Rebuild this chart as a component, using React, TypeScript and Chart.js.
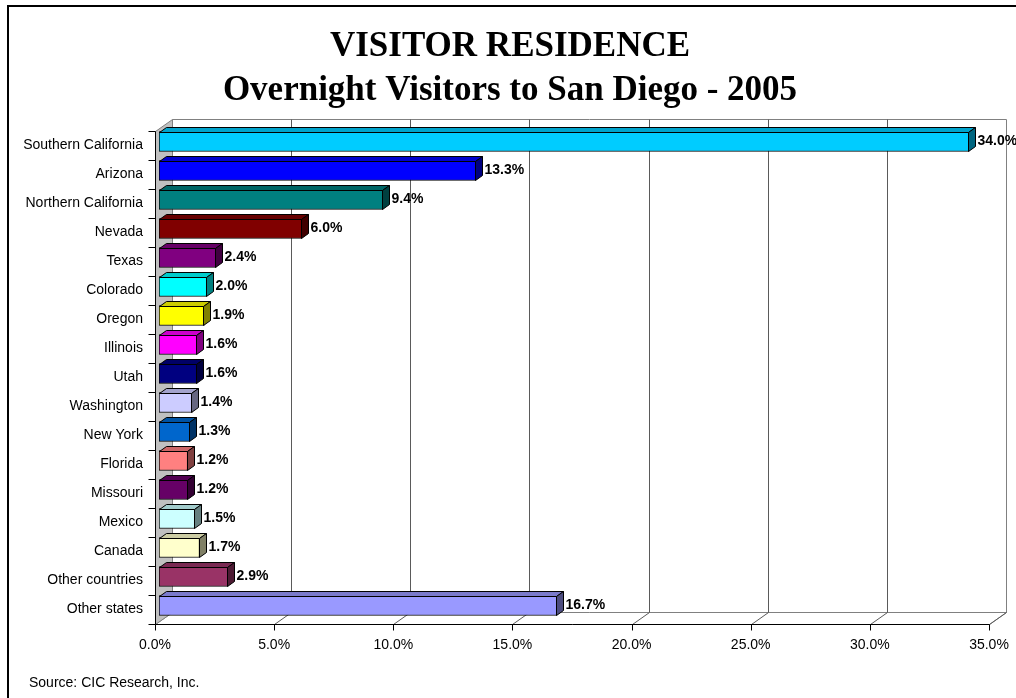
import { useEffect, useRef } from 'react';
import { Chart, registerables } from 'chart.js';

Chart.register(...registerables);

// Visitor origin categories, top to bottom
const regions = [
  'Southern California',
  'Arizona',
  'Northern California',
  'Nevada',
  'Texas',
  'Colorado',
  'Oregon',
  'Illinois',
  'Utah',
  'Washington',
  'New York',
  'Florida',
  'Missouri',
  'Mexico',
  'Canada',
  'Other countries',
  'Other states',
];

// Share of overnight visitors (%)
const shares = [34.0, 13.3, 9.4, 6.0, 2.4, 2.0, 1.9, 1.6, 1.6, 1.4, 1.3, 1.2, 1.2, 1.5, 1.7, 2.9, 16.7];

const barColors = [
  '#00CCFF', '#0000FF', '#008080', '#800000', '#800080', '#00FFFF', '#FFFF00', '#FF00FF',
  '#000080', '#CCCCFF', '#0066CC', '#FF8080', '#660066', '#CCFFFF', '#FFFFCC', '#993366', '#9999FF',
];

const axisMax = 35;
const axisStep = 5;
const titleLines = ['VISITOR RESIDENCE', 'Overnight Visitors to San Diego - 2005'];
const sourceNote = 'Source: CIC Research, Inc.';

// 3D geometry (pixels)
const FRONT_DX = -4;
const FRONT_DY = 4;
const WALL_DX = 17;
const WALL_DY = -12;
const BAR_DX = 7;
const BAR_DY = -5;

const SANS = '"Liberation Sans", Arial, sans-serif';

function shade(hex: string, f: number): string {
  const n = parseInt(hex.slice(1), 16);
  const r = Math.round(((n >> 16) & 255) * f);
  const g = Math.round(((n >> 8) & 255) * f);
  const b = Math.round((n & 255) * f);
  return `rgb(${r},${g},${b})`;
}

const px = (v: number) => Math.round(v) + 0.5;

function line(ctx: CanvasRenderingContext2D, x0: number, y0: number, x1: number, y1: number, color: string) {
  ctx.strokeStyle = color;
  ctx.beginPath();
  ctx.moveTo(x0, y0);
  ctx.lineTo(x1, y1);
  ctx.stroke();
}

function poly(ctx: CanvasRenderingContext2D, pts: number[][], fill: string | null, stroke: string | null) {
  ctx.beginPath();
  pts.forEach(([x, y], i) => (i ? ctx.lineTo(x, y) : ctx.moveTo(x, y)));
  ctx.closePath();
  if (fill) {
    ctx.fillStyle = fill;
    ctx.fill();
  }
  if (stroke) {
    ctx.strokeStyle = stroke;
    ctx.stroke();
  }
}

const room3d = {
  id: 'room3d',
  beforeDraw(chart: any) {
    const { ctx } = chart;
    ctx.save();
    ctx.fillStyle = '#000';
    ctx.fillRect(7, 5, chart.width - 7, 2);
    ctx.fillRect(7, 5, 2, chart.height - 5);
    ctx.restore();
  },
  beforeDatasetsDraw(chart: any) {
    const { ctx, chartArea: a, scales } = chart;
    const xs = scales.x;
    const fx0 = px(a.left + FRONT_DX);
    const fx1 = px(xs.getPixelForValue(axisMax) + FRONT_DX);
    const fy0 = px(a.top + FRONT_DY);
    const fy1 = px(a.bottom + FRONT_DY);
    const bx0 = fx0 + WALL_DX;
    const bx1 = fx1 + WALL_DX;
    const by0 = fy0 + WALL_DY;
    const by1 = fy1 + WALL_DY;

    ctx.save();
    ctx.lineWidth = 1;

    // back wall
    poly(ctx, [[bx0, by0], [bx1, by0], [bx1, by1], [bx0, by1]], '#fff', '#808080');
    // floor
    poly(ctx, [[fx0, fy1], [fx1, fy1], [bx1, by1], [bx0, by1]], '#fff', '#808080');

    // gridlines on back wall and their floor diagonals
    for (let v = axisStep; v <= axisMax; v += axisStep) {
      const xf = px(xs.getPixelForValue(v) + FRONT_DX);
      const xb = xf + WALL_DX;
      if (v < axisMax) line(ctx, xb, by0, xb, by1, '#5a5a5a');
      line(ctx, xf, fy1, xb, by1, '#5a5a5a');
    }

    // left side wall
    poly(ctx, [[fx0, fy0], [bx0, by0], [bx0, by1], [fx0, fy1]], '#C0C0C0', '#808080');

    // front axes
    line(ctx, fx0, fy0, fx0, fy1, '#000');
    line(ctx, fx0, fy1, fx1, fy1, '#000');
    for (let v = 0; v <= axisMax; v += axisStep) {
      const xf = px(xs.getPixelForValue(v) + FRONT_DX);
      line(ctx, xf, fy1, xf, fy1 + 6, '#000');
    }
    const band = (a.bottom - a.top) / regions.length;
    for (let k = 0; k <= regions.length; k++) {
      const y = px(a.top + k * band + FRONT_DY);
      line(ctx, fx0 - 7, y, fx0, y, '#000');
    }
    ctx.restore();
  },
  afterDatasetsDraw(chart: any) {
    const { ctx } = chart;
    const meta = chart.getDatasetMeta(0);
    ctx.save();
    ctx.lineWidth = 1;
    meta.data.forEach((el: any, i: number) => {
      const { x, y, base, height } = el.getProps(['x', 'y', 'base', 'height'], true);
      const left = Math.round(Math.min(x, base));
      const right = Math.round(Math.max(x, base)) - 0.5;
      const top = Math.round(y - height / 2) + 0.5;
      const bottom = Math.round(y + height / 2) - 0.5;
      const c = barColors[i];
      poly(ctx, [[left + 0.5, top], [left + 0.5 + BAR_DX, top + BAR_DY], [right + BAR_DX, top + BAR_DY], [right, top]], shade(c, 0.8), '#000');
      poly(ctx, [[right, top], [right + BAR_DX, top + BAR_DY], [right + BAR_DX, bottom + BAR_DY], [right, bottom]], shade(c, 0.5), '#000');

      ctx.fillStyle = '#000';
      ctx.font = `bold 14px ${SANS}`;
      ctx.textAlign = 'left';
      ctx.textBaseline = 'middle';
      ctx.fillText(shares[i].toFixed(1) + '%', right + 9, y);
    });

    ctx.font = `14px ${SANS}`;
    ctx.fillStyle = '#000';
    ctx.textAlign = 'left';
    ctx.textBaseline = 'middle';
    ctx.fillText(sourceNote, 29, 683);
    ctx.restore();
  },
};

export default function App() {
  const canvasRef = useRef<HTMLCanvasElement>(null);

  useEffect(() => {
    if (!canvasRef.current) return;
    const chart = new Chart(canvasRef.current, {
      type: 'bar',
      data: {
        labels: regions,
        datasets: [
          {
            data: shares,
            backgroundColor: barColors,
            borderColor: '#000',
            borderWidth: 1,
            borderSkipped: false,
            barThickness: 20,
          },
        ],
      },
      options: {
        indexAxis: 'y',
        animation: false,
        responsive: false,
        devicePixelRatio: 1,
        layout: { padding: { left: 4, right: 0, top: 0, bottom: 0 } },
        plugins: {
          legend: { display: false },
          tooltip: { enabled: false },
          title: {
            display: true,
            text: titleLines,
            color: '#000',
            font: { family: '"Liberation Serif", "Times New Roman", serif', size: 35, weight: 'bold', lineHeight: '44px' },
            padding: { top: 25, bottom: 14 },
          },
        },
        scales: {
          x: {
            type: 'linear',
            min: 0,
            max: axisMax,
            grid: { display: false, drawTicks: false },
            border: { display: false },
            ticks: {
              stepSize: axisStep,
              autoSkip: false,
              maxRotation: 0,
              labelOffset: FRONT_DX,
              padding: 17,
              color: '#000',
              font: { family: SANS, size: 14 },
              callback: (v: any) => Number(v).toFixed(1) + '%',
            },
            afterFit: (s: any) => {
              s.height = 78;
              s.paddingLeft = 0;
              s.paddingRight = 0;
            },
          },
          y: {
            type: 'category',
            grid: { display: false, drawTicks: false },
            border: { display: false },
            ticks: {
              autoSkip: false,
              labelOffset: 3.5,
              padding: 16,
              color: '#000',
              font: { family: SANS, size: 14 },
            },
            afterFit: (s: any) => {
              s.width = 155;
              s.paddingTop = 0;
              s.paddingBottom = 0;
            },
          },
          edge: {
            type: 'linear',
            position: 'right',
            display: true,
            grid: { display: false, drawTicks: false },
            border: { display: false },
            ticks: { display: false },
            afterFit: (s: any) => {
              s.width = 23;
              s.paddingTop = 0;
              s.paddingBottom = 0;
            },
          },
        },
      },
      plugins: [room3d],
    } as any);
    return () => chart.destroy();
  }, []);

  return (
    <div style={{ position: 'fixed', left: 0, top: 0, width: 1016, height: 698, background: '#fff' }}>
      <canvas ref={canvasRef} width={1016} height={698} />
    </div>
  );
}
